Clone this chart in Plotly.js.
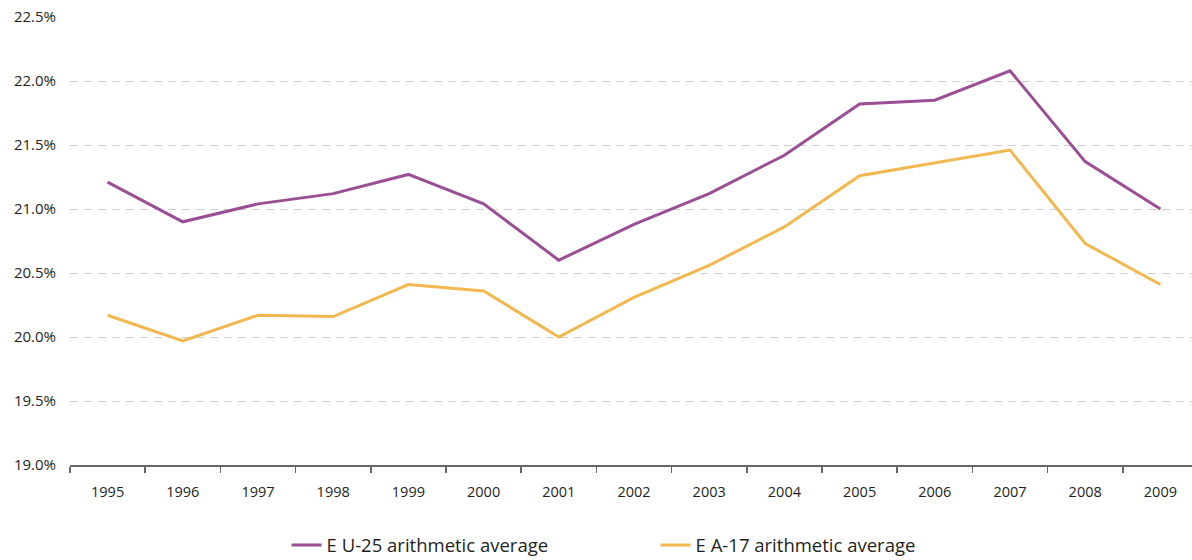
<!DOCTYPE html>
<html>
<head>
<meta charset="utf-8">
<script src="https://cdn.plot.ly/plotly-3.0.1.min.js"></script>
<style>
html,body{margin:0;padding:0;overflow:hidden;background:#fff;}
#chart{width:1198px;height:560px;}
</style>
</head>
<body>
<div id="chart"></div>
<script>
const years = ["1995","1996","1997","1998","1999","2000","2001","2002","2003","2004","2005","2006","2007","2008","2009"];
const eu25 = [21.21,20.90,21.04,21.12,21.27,21.04,20.60,20.88,21.12,21.42,21.82,21.85,22.08,21.37,21.00];
const ea17 = [20.17,19.97,20.17,20.16,20.41,20.36,20.00,20.31,20.56,20.86,21.26,21.36,21.46,20.73,20.41];
const seriesNames = ["E U-25 arithmetic average","E A-17 arithmetic average"];

const traces = [
  {x: years, y: eu25, name: seriesNames[0], type: 'scatter', mode: 'lines',
   line: {color: '#9a4f94', width: 3}},
  {x: years, y: ea17, name: seriesNames[1], type: 'scatter', mode: 'lines',
   line: {color: '#f2b84f', width: 3}}
];

const layout = {
  width: 1198, height: 560,
  margin: {l: 70, r: 0, t: 17, b: 95, autoexpand: false},
  paper_bgcolor: '#fff', plot_bgcolor: '#fff',
  font: {family: 'Open Sans, sans-serif', color: '#231f20'},
  showlegend: true,
  legend: {orientation: 'h', x: 0.192, xanchor: 'left', y: -0.137, yanchor: 'top',
    font: {size: 18.5, color: '#231f20'}, entrywidth: 324, entrywidthmode: 'pixels',
    bgcolor: 'rgba(0,0,0,0)'},
  xaxis: {type: 'category', range: [-0.5, 14.5], showgrid: false, zeroline: false,
    showline: true, linecolor: '#666', linewidth: 2,
    ticks: 'outside', tickson: 'boundaries', ticklen: 6, tickcolor: '#666', tickwidth: 1.5,
    ticklabelstandoff: 13,
    tickfont: {size: 14.5, color: '#231f20'}, fixedrange: true},
  yaxis: {range: [19, 22.5], dtick: 0.5, tick0: 19, tickformat: '.1f', ticksuffix: '%',
    showgrid: true, gridcolor: '#cfcfcf', griddash: '8px,6px', gridwidth: 1,
    zeroline: false, showline: false, ticks: '', ticklabelstandoff: 13,
    tickfont: {size: 15, color: '#231f20'}, fixedrange: true}
};

Plotly.newPlot('chart', traces, layout, {displayModeBar: false, staticPlot: true});
</script>
</body>
</html>
